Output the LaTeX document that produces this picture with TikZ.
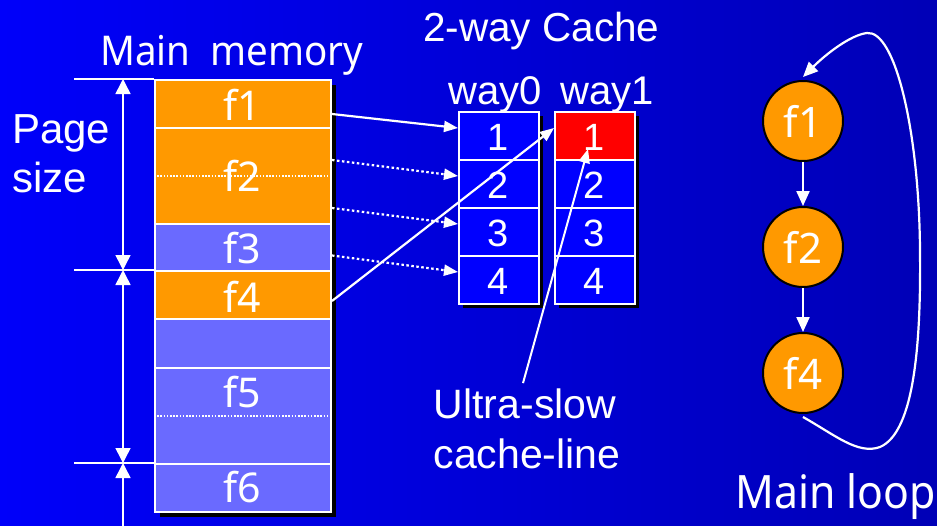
\documentclass[tikz,border=0pt]{standalone}
\usepackage{fontspec}
\setmainfont{Liberation Sans}
\newfontfamily\roundsans{Noto Sans}
\usetikzlibrary{arrows.meta,calc}

\definecolor{bgleft}{RGB}{0,0,250}
\definecolor{bgright}{RGB}{0,0,182}
\definecolor{memorange}{RGB}{255,153,0}
\definecolor{memlilac}{RGB}{106,106,255}
\definecolor{cacheblue}{RGB}{0,0,255}
\definecolor{hotred}{RGB}{255,0,0}

\begin{document}
\begin{tikzpicture}[x=1pt,y=-1pt,
  memcell/.style={draw=white,line width=2pt,minimum width=176pt,inner sep=0pt,anchor=north west},
  cachecell/.style={draw=white,line width=2pt,fill=cacheblue,minimum width=80pt,minimum height=48pt,inner sep=0pt,anchor=north west},
  memlabel/.style={text=white,inner sep=0pt,anchor=base,font=\roundsans\fontsize{41}{48}\selectfont},
  numlabel/.style={text=white,inner sep=0pt,anchor=base,font=\fontsize{38}{46}\selectfont},
  title/.style={text=white,inner sep=0pt,font=\fontsize{40}{48}\selectfont},
  looknode/.style={circle,draw=black,line width=2pt,fill=memorange,minimum size=80pt,inner sep=0pt,text=white,font=\roundsans\fontsize{42}{48}\selectfont},
  conn/.style={draw=white,line width=2.2pt,-{Triangle[width=11pt,length=14pt]}},
  dotconn/.style={conn,dash pattern=on 2.5pt off 2.5pt},
  dimline/.style={draw=white,line width=1.5pt},
  dimarrow/.style={draw=white,line width=1.5pt,{Triangle[width=15pt,length=15pt]}-{Triangle[width=15pt,length=15pt]}},
  splitline/.style={draw=white,line width=1.3pt,dash pattern=on 1.6pt off 1.6pt}
]
% background
\useasboundingbox (0,0) rectangle (937,525);
\clip (0,0) rectangle (937,525);
\shade[left color=bgleft,right color=bgright] (0,0) rectangle (937,525);

% ---- main memory ----
\node[title,anchor=base west,font=\roundsans\fontsize{41}{48}\selectfont] (memtitle) at (100,65) {\scalebox{0.94}[1]{Main\ \ memory}};
\fill[black] (160,85) rectangle (336,517);
\node[memcell,fill=memorange,minimum height=48pt] (m1) at (154,79) {};
\node[memcell,fill=memorange,minimum height=96pt] (m2) at (154,127) {};
\node[memcell,fill=memlilac,minimum height=47pt] (m3) at (154,223) {};
\node[memcell,fill=memorange,minimum height=48pt] (m4) at (154,270) {};
\node[memcell,fill=memlilac,minimum height=49pt] (m45) at (154,318) {};
\node[memcell,fill=memlilac,minimum height=96pt] (m5) at (154,367) {};
\node[memcell,fill=memlilac,minimum height=48pt] (m6) at (154,463) {};
\draw[splitline] (m2.west) -- (m2.east);
\draw[splitline] (m5.west) -- (m5.east);
\node[memlabel] (t1) at (242,120) {f1};
\node[memlabel] (t2) at (242,191) {f2};
\node[memlabel] (t3) at (242,263) {f3};
\node[memlabel] (t4) at (242,312) {f4};
\node[memlabel] (t5) at (242,407) {f5};
\node[memlabel] (t6) at (242,502) {f6};

% ---- page size dimension ----
\coordinate (d1) at (123,79);
\coordinate (d2) at (123,270);
\coordinate (d3) at (123,463);
\coordinate (d4) at (123,540);
\coordinate (e1) at (74,79);
\coordinate (e2) at (74,270);
\coordinate (e3) at (74,463);
\draw[dimline] (e1) -- (m1.north west);
\draw[dimline] (e2) -- (m4.north west);
\draw[dimline] (e3) -- (m6.north west);
\draw[dimarrow] (d1) -- (d2);
\draw[dimarrow] (d2) -- (d3);
\draw[dimline,{Triangle[width=15pt,length=15pt]}-] (d3) -- (d4);
\node[title,anchor=base west,font=\fontsize{42}{48}\selectfont] (page1) at (12,143) {Page};
\node[title,anchor=base west,font=\fontsize{42}{48}\selectfont] (page2) at (12,192) {size};

% ---- 2-way cache ----
\node[title,anchor=base west,font=\fontsize{40.5}{48}\selectfont] (cachetitle) at (423,41) {2-way Cache};
\fill[black] (463,116) rectangle (543,308);
\fill[black] (559,116) rectangle (639,308);
\node[cachecell] (c01) at (458,111) {};
\node[cachecell] (c02) at (458,159) {};
\node[cachecell] (c03) at (458,207) {};
\node[cachecell] (c04) at (458,255) {};
\node[cachecell,fill=hotred] (c11) at (554,111) {};
\node[cachecell] (c12) at (554,159) {};
\node[cachecell] (c13) at (554,207) {};
\node[cachecell] (c14) at (554,255) {};
\node[numlabel] (n01) at (498,150) {1};
\node[numlabel] (n02) at (498,198) {2};
\node[numlabel] (n03) at (498,246) {3};
\node[numlabel] (n04) at (498,294) {4};
\node[numlabel] (n11) at (594,150) {1};
\node[numlabel] (n12) at (594,198) {2};
\node[numlabel] (n13) at (594,246) {3};
\node[numlabel] (n14) at (594,294) {4};
\node[title,anchor=base,font=\fontsize{40}{46}\selectfont] (way0) at (495,104) {way0};
\node[title,anchor=base,font=\fontsize{40}{46}\selectfont] (way1) at (607,104) {way1};

% ---- mapping arrows ----
\draw[conn] ([yshift=-10pt]m1.east) -- ([yshift=8pt]c01.west);
\draw[dotconn] ([yshift=16pt]m2.east) -- ([yshift=8pt]c02.west);
\draw[dotconn] ([yshift=-32pt]m2.east) -- ([yshift=8pt]c03.west);
\draw[dotconn] ([yshift=-8pt]m3.east) -- ([yshift=8pt]c04.west);
\draw[conn] ([yshift=-6pt]m4.east) -- ([yshift=8pt]c11.west);

% ---- ultra-slow label ----
\node[title,anchor=base,font=\fontsize{41}{48}\selectfont] (ultra1) at (525,418) {Ultra-slow};
\node[title,anchor=base,font=\fontsize{41}{48}\selectfont] (ultra2) at (527,468) {cache-line};
\draw[conn,line width=2pt] ([xshift=-2pt,yshift=5pt]ultra1.north) -- ([xshift=-7pt,yshift=-13pt]c11.center);

% ---- main loop ----
\node[looknode] (k1) at (803,121) {f1};
\node[looknode] (k2) at (803,247) {f2};
\node[looknode] (k4) at (803,373) {f4};
\draw[conn,-{Triangle[width=13pt,length=15pt]}] (k1) -- (k2);
\draw[conn,-{Triangle[width=13pt,length=15pt]}] (k2) -- (k4);
\draw[conn,-{Triangle[width=13pt,length=15pt]}] ([yshift=-3pt]k4.south)
  .. controls (835,435) and (858,455) .. (880,447)
  .. controls (915,432) and (921,340) .. (920,250)
  .. controls (919,130) and (895,30) .. (867,33)
  .. controls (850,35) and (825,55) .. ([yshift=3pt]k1.north);
\node[title,anchor=base west,font=\roundsans\fontsize{46}{54}\selectfont] (looptitle) at (735,508) {\scalebox{0.93}[1]{Main loop}};
\end{tikzpicture}
\end{document}
